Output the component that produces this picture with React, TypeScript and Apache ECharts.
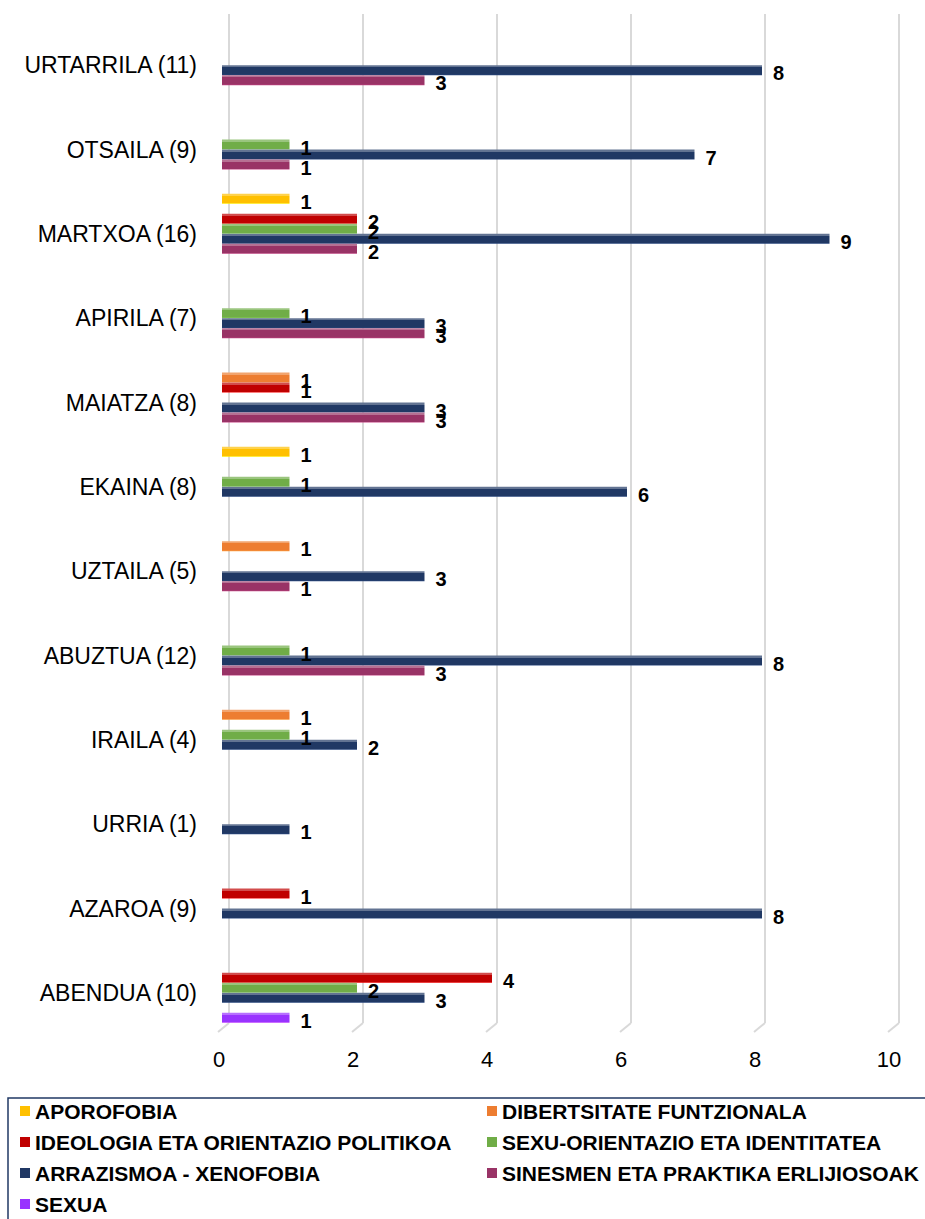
import { useEffect, useRef } from 'react';
import * as echarts from 'echarts';

const months = [
  'URTARRILA (11)', 'OTSAILA (9)', 'MARTXOA (16)', 'APIRILA (7)', 'MAIATZA (8)', 'EKAINA (8)',
  'UZTAILA (5)', 'ABUZTUA (12)', 'IRAILA (4)', 'URRIA (1)', 'AZAROA (9)', 'ABENDUA (10)',
];

const seriesNames = [
  'APOROFOBIA',
  'DIBERTSITATE FUNTZIONALA',
  'IDEOLOGIA ETA ORIENTAZIO POLITIKOA',
  'SEXU-ORIENTAZIO ETA IDENTITATEA',
  'ARRAZISMOA - XENOFOBIA',
  'SINESMEN ETA PRAKTIKA ERLIJIOSOAK',
  'SEXUA',
];

const aporofobia = [null, null, 1, null, null, 1, null, null, null, null, null, null];
const dibertsitate = [null, null, null, null, 1, null, 1, null, 1, null, null, null];
const ideologia = [null, null, 2, null, 1, null, null, null, null, null, 1, 4];
const sexuOrientazio = [null, 1, 2, 1, null, 1, null, 1, 1, null, null, 2];
const arrazismoa = [8, 7, 9, 3, 3, 6, 3, 8, 2, 1, 8, 3];
const sinesmen = [3, 1, 2, 3, 3, null, 1, 3, null, null, null, null];
const sexua = [null, null, null, null, null, null, null, null, null, null, null, 1];

const seriesValues = [aporofobia, dibertsitate, ideologia, sexuOrientazio, arrazismoa, sinesmen, sexua];
const colors = ['#FFC000', '#ED7D31', '#C00000', '#70AD47', '#203864', '#993366', '#9933FF'];
const xTicks = [0, 2, 4, 6, 8, 10];

const FONT = '"Liberation Sans", Arial, Helvetica, sans-serif';

export default function App() {
  const ref = useRef<HTMLDivElement>(null);

  useEffect(() => {
    if (!ref.current) return;
    const chart = echarts.init(ref.current, null, { renderer: 'svg' });

    const barSeries = seriesNames.map((name, i) => {
      const base = colors[i];
      const light = echarts.color.lift(base, 0.3);
      const dark = echarts.color.lift(base, -0.3);
      return {
        name,
        type: 'bar',
        xAxisIndex: 0,
        yAxisIndex: 0,
        data: seriesValues[i],
        barWidth: 10,
        barGap: '0%',
        z: 3,
        itemStyle: {
          color: new echarts.graphic.LinearGradient(0, 0, 0, 1, [
            { offset: 0, color: light },
            { offset: 0.22, color: light },
            { offset: 0.22, color: base },
            { offset: 0.9, color: base },
            { offset: 1, color: dark },
          ]),
        },
        label: {
          show: true,
          position: 'right',
          distance: 11,
          offset: [0, 3],
          color: '#000',
          fontFamily: FONT,
          fontSize: 20,
          lineHeight: 16,
          fontWeight: 'bold',
          formatter: (p: any) => (p.value == null ? '' : String(p.value)),
        },
      };
    });

    const floorSeries = {
      type: 'custom',
      xAxisIndex: 1,
      yAxisIndex: 1,
      silent: true,
      z: 1,
      data: xTicks,
      renderItem: (params: any, api: any) => {
        const p = api.coord([api.value(0), 0]);
        return {
          type: 'line',
          shape: { x1: p[0], y1: p[1], x2: p[0] - 11, y2: p[1] + 9 },
          style: { stroke: '#d9d9d9', lineWidth: 2 },
        };
      },
    };

    chart.setOption({
      animation: false,
      backgroundColor: '#ffffff',
      textStyle: { fontFamily: FONT },
      legend: {
        data: seriesNames.map((n, i) => ({ name: n, itemStyle: { color: colors[i] } })),
        left: 8,
        top: 1098,
        orient: 'horizontal',
        width: 1000,
        padding: [2, 0, 30, 12],
        itemWidth: 10,
        itemHeight: 10,
        itemGap: 9,
        icon: 'rect',
        borderColor: '#203864',
        borderWidth: 1.5,
        selectedMode: false,
        textStyle: {
          fontFamily: FONT,
          fontSize: 21,
          fontWeight: 'bold',
          color: '#000',
          width: 443,
          lineHeight: 22,
        },
      },
      grid: [
        { left: 222, top: 18, width: 675, height: 1012 },
        { left: 229, top: 14, width: 670, height: 1009 },
      ],
      xAxis: [
        { type: 'value', gridIndex: 0, min: 0, max: 10, interval: 2, show: false },
        {
          type: 'value',
          gridIndex: 1,
          min: 0,
          max: 10,
          interval: 2,
          axisLine: { show: false },
          axisTick: { show: false },
          splitLine: { show: true, lineStyle: { color: '#d9d9d9', width: 2 } },
          axisLabel: {
            color: '#000',
            fontFamily: FONT,
            fontSize: 22,
            margin: 25,
            padding: [0, 20, 0, 0],
          },
        },
      ],
      yAxis: [
        {
          type: 'category',
          gridIndex: 0,
          data: months,
          inverse: true,
          axisLine: { show: false },
          axisTick: { show: false },
          splitLine: { show: false },
          axisLabel: {
            color: '#000',
            fontFamily: FONT,
            fontSize: 23,
            margin: 25,
            verticalAlign: 'top',
            lineHeight: 10,
          },
        },
        { type: 'value', gridIndex: 1, min: 0, max: 1, show: false },
      ],
      series: [...barSeries, floorSeries],
    });

    return () => chart.dispose();
  }, []);

  return (
    <div
      ref={ref}
      style={{ position: 'absolute', left: 0, top: 0, width: 925, height: 1219 }}
    />
  );
}
